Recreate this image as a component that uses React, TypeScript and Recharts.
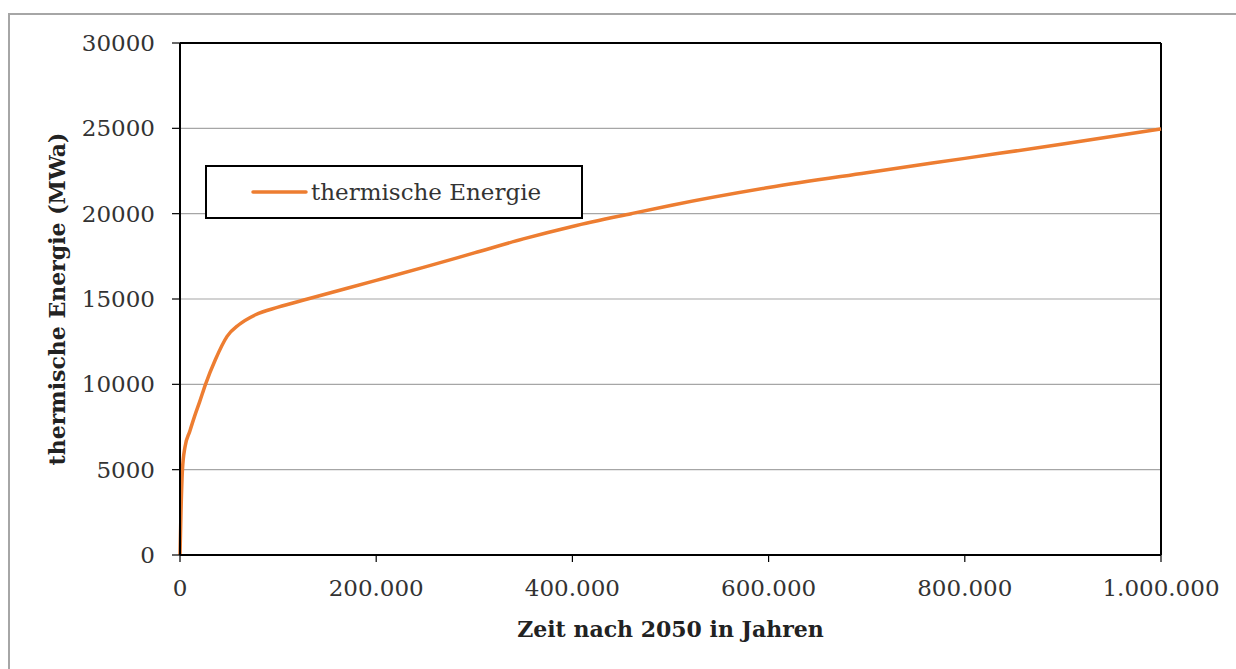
import React from 'react';
import { LineChart, Line, XAxis, YAxis, CartesianGrid, ReferenceLine, Legend } from 'recharts';

const years = [0, 1000, 2500, 5000, 10000, 15000, 20000, 26000, 36000, 48000, 60000, 77000, 100000, 130000, 200000, 250000, 300000, 350000, 400000, 460000, 500000, 600000, 700000, 800000, 900000, 1000000];
const energy = [0, 2500, 5000, 6300, 7250, 8150, 8970, 10000, 11440, 12810, 13490, 14080, 14520, 15000, 16090, 16880, 17700, 18520, 19250, 20000, 20480, 21530, 22400, 23240, 24080, 24960];
const xTicks = [0, 200000, 400000, 600000, 800000, 1000000];
const yTicks = [0, 5000, 10000, 15000, 20000, 25000, 30000];
const seriesName = 'thermische Energie';
const xTitle = 'Zeit nach 2050 in Jahren';
const yTitle = 'thermische Energie (MWa)';

const data = years.map((x, i) => ({ x, y: energy[i] }));

const FONT = '"DejaVu Serif", serif';
const TEXT = '#333333';
const ORANGE = '#ED7D31';

const fmt = (v: number) => String(v).replace(/\B(?=(\d{3})+(?!\d))/g, '.');

const LegendBox = () => (
  <div
    style={{
      width: 378,
      height: 54,
      boxSizing: 'border-box',
      border: '2px solid #000',
      background: '#fff',
      display: 'flex',
      alignItems: 'center',
      fontFamily: FONT,
      fontSize: 23,
      color: TEXT,
    }}
  >
    <svg width={104} height={20} style={{ display: 'block' }}>
      <line x1={46} y1={10} x2={99} y2={10} stroke={ORANGE} strokeWidth={3.5} strokeLinecap="round" />
    </svg>
    <span style={{ whiteSpace: 'nowrap' }}>{seriesName}</span>
  </div>
);

export default function App() {
  return (
    <div style={{ position: 'absolute', left: 0, top: 0, width: 1236, height: 669, overflow: 'hidden', background: '#fff' }}>
      <div
        style={{
          position: 'absolute',
          left: 8,
          top: 13,
          width: 1300,
          height: 700,
          borderLeft: '2px solid #a6a6a6',
          borderTop: '2px solid #a6a6a6',
        }}
      />
      <div style={{ position: 'absolute', left: 0, top: 0 }}>
        <LineChart width={1236} height={669} data={data} margin={{ top: 43, right: 75, bottom: 24, left: 50 }}>
          <CartesianGrid horizontal vertical={false} stroke="#a6a6a6" strokeWidth={1.2} />
          <XAxis
            dataKey="x"
            type="number"
            domain={[0, 1000000]}
            ticks={xTicks}
            tickFormatter={fmt}
            height={90}
            axisLine={{ stroke: '#000', strokeWidth: 2 }}
            tickLine={{ stroke: '#000', strokeWidth: 1.2 }}
            tickSize={7}
            tickMargin={18}
            tick={{ fill: TEXT, fontFamily: FONT, fontSize: 23 }}
            label={{
              value: xTitle,
              position: 'insideBottom',
              offset: 8,
              style: { fill: '#222', fontFamily: FONT, fontSize: 22, fontWeight: 'bold', textAnchor: 'middle' },
            }}
          />
          <YAxis
            type="number"
            domain={[0, 30000]}
            ticks={yTicks}
            width={130}
            axisLine={{ stroke: '#000', strokeWidth: 2 }}
            tickLine={{ stroke: '#000', strokeWidth: 1.2 }}
            tickSize={8}
            tickMargin={17}
            tick={{ fill: TEXT, fontFamily: FONT, fontSize: 23 }}
            label={{
              value: yTitle,
              angle: -90,
              position: 'insideLeft',
              offset: 7,
              style: { fill: '#222', fontFamily: FONT, fontSize: 22, fontWeight: 'bold', textAnchor: 'middle' },
            }}
          />
          <ReferenceLine y={30000} stroke="#000" strokeWidth={2} />
          <ReferenceLine x={1000000} stroke="#000" strokeWidth={2} />
          <Legend
            layout="vertical"
            align="center"
            verticalAlign="middle"
            content={() => <LegendBox />}
            wrapperStyle={{ left: 205, top: 165, width: 378, height: 54 }}
          />
          <Line
            type="monotone"
            dataKey="y"
            name={seriesName}
            stroke={ORANGE}
            strokeWidth={3.5}
            dot={false}
            activeDot={false}
            isAnimationActive={false}
          />
        </LineChart>
      </div>
    </div>
  );
}
